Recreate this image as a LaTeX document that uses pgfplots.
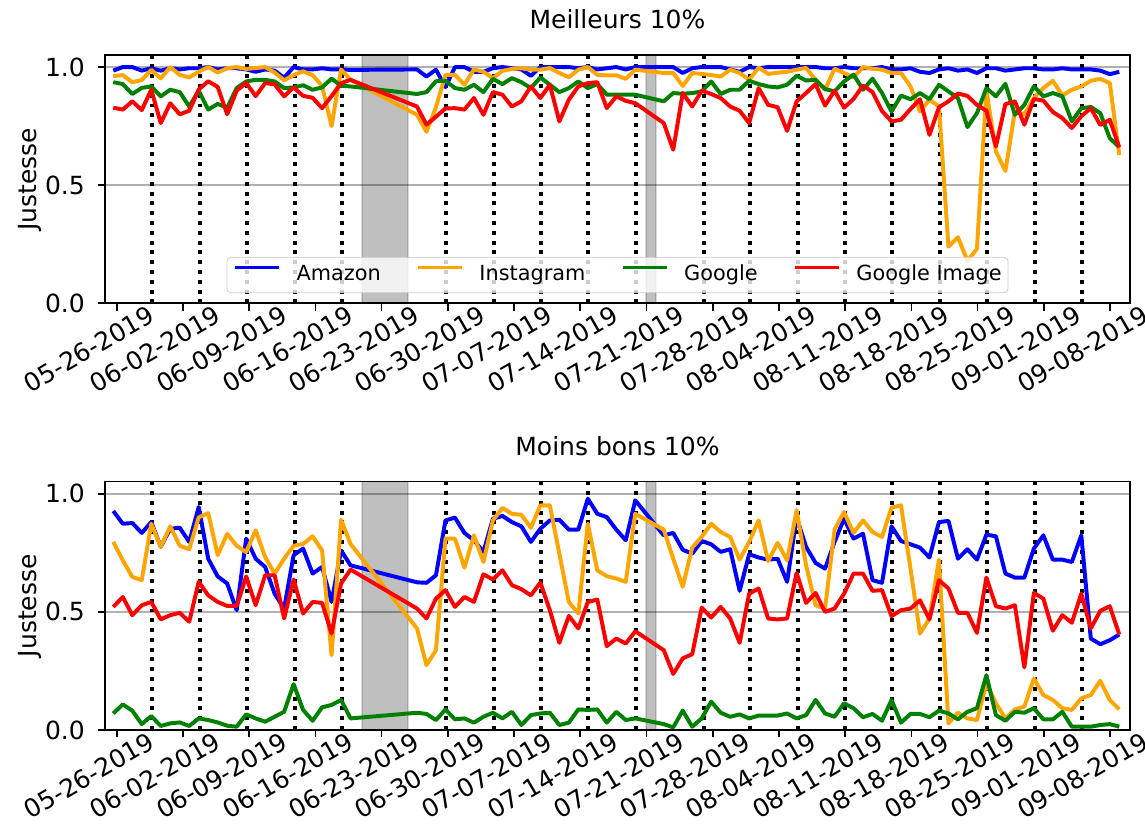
\documentclass[border=0pt]{standalone}
\usepackage{fontspec}
\setmainfont{DejaVu Sans}
\usepackage{pgfplots}
\usepackage{pgfplotstable}
\pgfplotsset{compat=1.18}

\definecolor{mplorange}{RGB}{255,165,0}
\definecolor{mplgreen}{RGB}{0,128,0}
\definecolor{gridgray}{RGB}{176,176,176}

% day index, Amazon, Instagram, Google, Google Image
\pgfplotstableread{
i A I G R
0 0.985 0.962 0.936 0.828
1 1.000 0.966 0.928 0.820
2 1.000 0.936 0.886 0.855
3 0.985 0.945 0.912 0.818
4 0.995 0.988 0.918 0.904
5 0.985 0.952 0.876 0.763
6 0.995 1.000 0.904 0.847
7 0.990 0.967 0.894 0.800
8 0.995 0.956 0.833 0.815
9 0.995 0.980 0.900 0.905
10 1.000 1.000 0.820 0.940
11 0.990 0.977 0.844 0.916
12 0.995 0.995 0.828 0.800
13 0.995 1.000 0.911 0.900
14 0.990 0.992 0.939 0.933
15 0.980 0.996 0.946 0.877
16 0.990 1.000 0.946 0.932
17 0.985 0.977 0.939 0.927
18 0.955 0.944 0.911 0.876
19 1.000 0.966 0.914 0.914
20 0.990 0.982 0.923 0.878
21 0.990 0.966 0.904 0.870
22 0.995 0.920 0.914 0.826
23 0.990 0.750 0.951 0.877
24 0.990 0.990 0.921 0.932
25 0.988 0.946 0.918 0.946
32 0.990 0.798 0.886 0.833
33 0.960 0.726 0.894 0.756
34 0.989 0.830 0.940 0.790
35 0.915 0.967 0.942 0.825
36 1.000 0.967 0.911 0.826
37 1.000 0.925 0.904 0.820
38 0.980 0.990 0.925 0.869
39 0.980 0.980 0.894 0.798
40 0.995 0.953 0.950 0.894
41 1.000 0.984 0.928 0.883
42 0.995 0.992 0.953 0.833
43 0.990 0.995 0.936 0.855
44 0.963 0.989 0.911 0.918
45 1.000 0.989 0.956 0.869
46 1.000 0.996 0.925 0.925
47 1.000 0.975 0.894 0.770
48 1.000 0.957 0.911 0.862
49 0.995 0.989 0.939 0.918
50 1.000 1.000 0.911 0.932
51 0.990 0.967 0.928 0.936
52 0.995 0.965 0.883 0.826
53 1.000 0.965 0.883 0.876
54 0.990 0.950 0.883 0.857
55 1.000 0.989 0.883 0.847
58 1.000 0.975 0.855 0.763
59 1.000 0.975 0.890 0.650
60 0.975 0.920 0.887 0.890
61 0.995 0.975 0.890 0.833
62 1.000 0.971 0.897 0.900
63 1.000 0.966 0.939 0.886
64 1.000 0.960 0.886 0.869
65 0.990 0.989 0.904 0.833
66 0.980 0.975 0.904 0.815
67 1.000 0.946 0.942 0.763
68 0.995 0.998 0.928 0.911
69 1.000 0.971 0.918 0.840
70 1.000 0.976 0.914 0.830
71 1.000 0.980 0.925 0.730
72 1.000 0.989 0.963 0.855
73 1.000 0.996 0.943 0.890
74 1.000 0.946 0.946 0.928
75 0.995 0.904 0.907 0.837
76 0.995 0.993 0.897 0.900
77 1.000 0.975 0.939 0.828
78 0.995 0.956 0.968 0.865
79 0.995 1.000 0.904 0.922
80 0.995 0.993 0.951 0.894
81 1.000 0.989 0.890 0.814
82 0.990 0.975 0.812 0.770
83 0.990 0.975 0.879 0.777
84 0.995 0.918 0.864 0.822
85 0.980 0.812 0.890 0.864
86 0.975 0.862 0.864 0.713
87 0.990 0.833 0.925 0.830
88 0.995 0.240 0.897 0.855
89 0.985 0.280 0.869 0.888
90 0.990 0.180 0.746 0.878
91 0.975 0.230 0.805 0.840
92 0.995 0.900 0.911 0.815
93 0.995 0.643 0.876 0.664
94 0.985 0.560 0.929 0.843
95 0.990 0.812 0.798 0.855
96 0.995 0.800 0.840 0.756
97 0.995 0.869 0.918 0.865
98 0.990 0.911 0.876 0.858
99 0.990 0.942 0.890 0.810
100 0.995 0.880 0.876 0.784
101 0.990 0.904 0.770 0.742
102 0.990 0.918 0.826 0.792
103 0.990 0.942 0.831 0.826
104 0.985 0.950 0.805 0.755
105 0.970 0.932 0.699 0.777
106 0.980 0.628 0.661 0.660
}\topdata

\pgfplotstableread{
i A I G R
0 0.927 0.796 0.070 0.521
1 0.873 0.718 0.108 0.563
2 0.876 0.648 0.082 0.486
3 0.834 0.634 0.025 0.528
4 0.880 0.873 0.059 0.542
5 0.775 0.775 0.017 0.468
6 0.852 0.862 0.028 0.486
7 0.856 0.780 0.032 0.496
8 0.796 0.765 0.017 0.458
9 0.944 0.900 0.049 0.627
10 0.725 0.918 0.042 0.570
11 0.650 0.740 0.032 0.542
12 0.620 0.830 0.018 0.525
13 0.507 0.780 0.014 0.525
14 0.810 0.753 0.066 0.650
15 0.725 0.845 0.049 0.528
16 0.690 0.732 0.035 0.655
17 0.577 0.662 0.056 0.655
18 0.514 0.725 0.077 0.472
19 0.740 0.780 0.194 0.637
20 0.768 0.787 0.085 0.493
21 0.662 0.820 0.039 0.542
22 0.690 0.760 0.096 0.538
23 0.542 0.317 0.106 0.408
24 0.760 0.890 0.127 0.620
25 0.697 0.787 0.049 0.679
32 0.625 0.430 0.073 0.514
33 0.623 0.275 0.068 0.472
34 0.655 0.338 0.042 0.556
35 0.887 0.810 0.087 0.592
36 0.899 0.810 0.045 0.521
37 0.834 0.687 0.049 0.563
38 0.803 0.824 0.031 0.542
39 0.754 0.711 0.056 0.659
40 0.894 0.887 0.073 0.637
41 0.906 0.940 0.049 0.676
42 0.880 0.915 0.077 0.613
43 0.862 0.911 0.021 0.596
44 0.796 0.856 0.063 0.570
45 0.852 0.951 0.070 0.624
46 0.887 0.951 0.073 0.507
47 0.890 0.746 0.021 0.369
48 0.848 0.542 0.031 0.483
49 0.848 0.493 0.087 0.430
50 0.979 0.873 0.085 0.542
51 0.915 0.676 0.087 0.552
52 0.901 0.651 0.031 0.355
53 0.848 0.641 0.077 0.387
54 0.803 0.627 0.042 0.366
55 0.972 0.915 0.049 0.418
58 0.824 0.848 0.025 0.338
59 0.834 0.725 0.011 0.237
60 0.763 0.606 0.082 0.303
61 0.746 0.772 0.014 0.321
62 0.800 0.817 0.049 0.518
63 0.786 0.873 0.120 0.476
64 0.754 0.838 0.073 0.521
65 0.765 0.817 0.056 0.472
66 0.589 0.721 0.066 0.369
67 0.744 0.796 0.049 0.577
68 0.730 0.887 0.061 0.599
69 0.721 0.715 0.061 0.472
70 0.725 0.792 0.061 0.468
71 0.627 0.718 0.070 0.472
72 0.901 0.930 0.049 0.665
73 0.775 0.697 0.063 0.538
74 0.707 0.528 0.127 0.580
75 0.683 0.514 0.070 0.500
76 0.796 0.848 0.056 0.514
77 0.894 0.923 0.113 0.577
78 0.810 0.834 0.092 0.662
79 0.831 0.887 0.054 0.662
80 0.634 0.838 0.068 0.589
81 0.623 0.817 0.039 0.592
82 0.862 0.941 0.127 0.482
83 0.800 0.951 0.031 0.507
84 0.786 0.683 0.068 0.514
85 0.772 0.408 0.068 0.549
86 0.730 0.472 0.054 0.468
87 0.880 0.721 0.082 0.634
88 0.885 0.028 0.070 0.599
89 0.725 0.073 0.045 0.496
90 0.765 0.049 0.077 0.496
91 0.721 0.042 0.092 0.411
92 0.827 0.197 0.232 0.645
93 0.820 0.113 0.063 0.524
94 0.662 0.049 0.039 0.514
95 0.645 0.087 0.077 0.528
96 0.645 0.099 0.073 0.265
97 0.768 0.218 0.092 0.580
98 0.824 0.148 0.045 0.556
99 0.721 0.127 0.045 0.420
100 0.721 0.092 0.077 0.486
101 0.711 0.085 0.014 0.454
102 0.824 0.134 0.014 0.577
103 0.387 0.148 0.014 0.430
104 0.363 0.208 0.021 0.504
105 0.380 0.127 0.025 0.524
106 0.404 0.087 0.014 0.404
}\botdata

\pgfplotsset{
  panel/.style={
    scale only axis, width=492pt, height=119.3pt,
    xmin=-0.875, xmax=107.13, ymin=0, ymax=1.052,
    xtick={0.36,7.34,14.31,21.29,28.27,35.25,42.23,49.2,56.18,63.16,70.14,77.12,84.1,91.07,98.05,105.03},
    xticklabels={05-26-2019,06-02-2019,06-09-2019,06-16-2019,06-23-2019,06-30-2019,07-07-2019,07-14-2019,07-21-2019,07-28-2019,08-04-2019,08-11-2019,08-18-2019,08-25-2019,09-01-2019,09-08-2019},
    ytick={0,0.5,1}, yticklabels={0.0,0.5,1.0},
    ymajorgrids, grid style={gridgray, line width=0.8pt},
    tick align=outside, major tick length=3.5pt,
    xtick pos=left, ytick pos=left,
    tick style={black, line width=0.8pt},
    axis line style={line width=0.8pt},
    tick label style={font=\fontsize{12}{14}\selectfont},
    xticklabel style={inner sep=0pt, anchor=north east, rotate=30, xshift=14.4pt, yshift=-4.5pt},
    yticklabel style={inner sep=0pt, anchor=east, xshift=-6pt},
    ylabel={Justesse},
    ylabel style={font=\fontsize{12}{14}\selectfont, at={(axis description cs:-0.0733,0.5)}, anchor=center},
    title style={font=\fontsize{12}{14}\selectfont, at={(0.5,1)}, anchor=base, yshift=6.5pt},
    every axis plot/.append style={line width=1.9pt, line join=round},
  },
}
\tikzset{
  dotline/.style={black, line width=1.9pt, dash pattern=on 1.9pt off 2.8pt},
  grayspan/.style={fill=black, fill opacity=0.25, draw=black, draw opacity=0.15, line width=1pt},
}

\newcommand{\decor}{%
  \filldraw[grayspan] (axis cs:26.17,0) rectangle (axis cs:31.09,1.052);
  \filldraw[grayspan] (axis cs:56.13,0) rectangle (axis cs:57.18,1.052);
  \pgfplotsinvokeforeach{4.1,9.1,14.1,19.1,24.1,35.1,40.1,45.1,50.0,55.1,62.2,67.1,72.1,77.1,82.1,87.1,92.1,97.1,102.1}{
    \draw[dotline] (axis cs:##1,0) -- (axis cs:##1,1.052);
  }%
}

\begin{document}
\begin{tikzpicture}
\begin{axis}[panel, name=top, at={(0pt,0pt)}, anchor=south west,
    title={Meilleurs 10\%},
    legend style={at={(0.5,0.041)}, anchor=south, legend columns=4,
      draw=black!20, rounded corners=2pt, fill=white, fill opacity=0.8, text opacity=1,
      font=\fontsize{10}{12}\selectfont, inner xsep=3pt, inner ysep=3.5pt,
      nodes={inner sep=0pt, text depth=0.25em, text height=0.75em},
      /tikz/every odd column/.append style={column sep=7.5pt},
      /tikz/every even column/.append style={column sep=17pt}},
    legend image code/.code={\draw[#1] (0pt,0.36em) -- (21pt,0.36em);},
  ]
  \decor
  \addplot[blue] table[x=i, y=A] {\topdata};
  \addlegendentry{Amazon}
  \addplot[mplorange] table[x=i, y=I] {\topdata};
  \addlegendentry{Instagram}
  \addplot[mplgreen] table[x=i, y=G] {\topdata};
  \addlegendentry{Google}
  \addplot[red] table[x=i, y=R] {\topdata};
  \addlegendentry{Google Image}
\end{axis}

\begin{axis}[panel, at={(0pt,-204.8pt)}, anchor=south west,
    title={Moins bons 10\%},
  ]
  \decor
  \addplot[blue] table[x=i, y=A] {\botdata};
  \addplot[mplorange] table[x=i, y=I] {\botdata};
  \addplot[mplgreen] table[x=i, y=G] {\botdata};
  \addplot[red] table[x=i, y=R] {\botdata};
\end{axis}

\pgfresetboundingbox
\path[use as bounding box] (-50.4pt,-254.7pt) rectangle (499.2pt,145.6pt);
\end{tikzpicture}
\end{document}
